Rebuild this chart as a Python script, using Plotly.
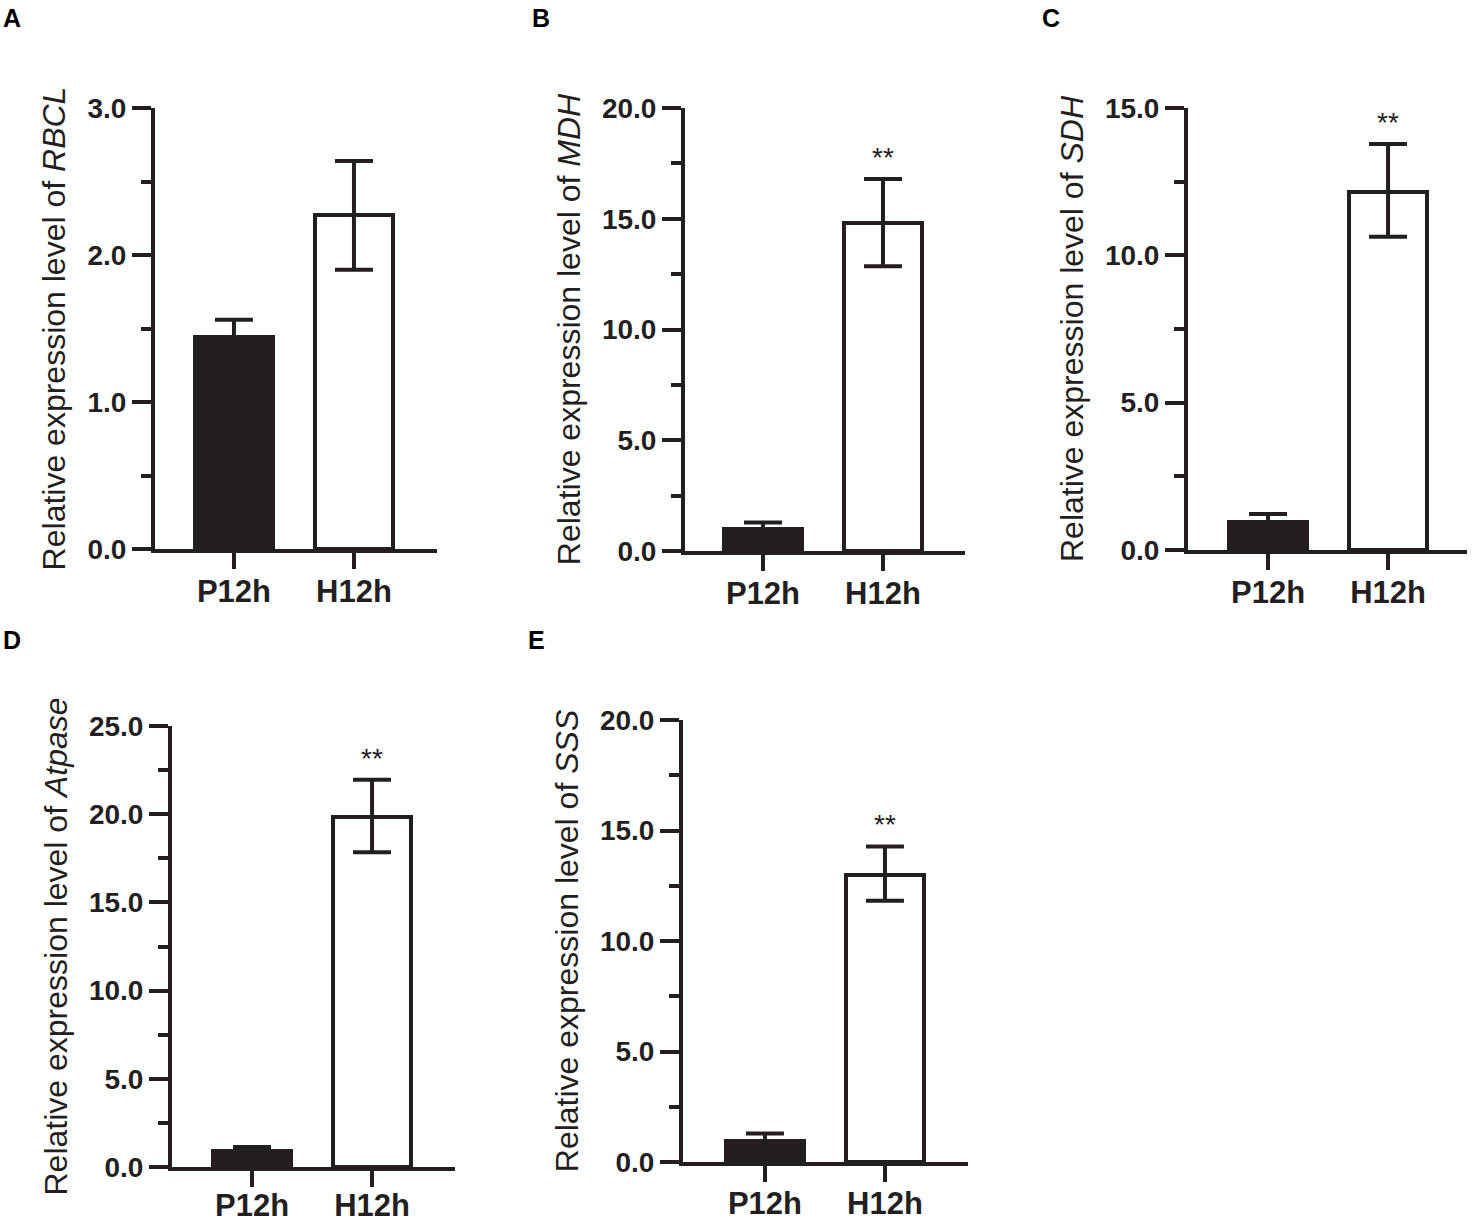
import plotly.graph_objects as go

W, H = 1476, 1224
INK = "#231f20"

categories = ["P12h", "H12h"]

# Panel data: mean, upper bound, lower bound
genes = ["RBCL", "MDH", "SDH", "Atpase", "SSS"]
panel_letters = ["A", "B", "C", "D", "E"]

mean_A = [1.44, 2.27]
upper_A = [1.56, 2.64]
lower_A = [1.32, 1.90]

mean_B = [0.98, 14.80]
upper_B = [1.29, 16.80]
lower_B = [0.67, 12.85]

mean_C = [0.95, 12.15]
upper_C = [1.22, 13.78]
lower_C = [0.68, 10.63]

mean_D = [0.88, 19.85]
upper_D = [1.14, 21.95]
lower_D = [0.62, 17.85]

mean_E = [0.96, 12.98]
upper_E = [1.29, 14.28]
lower_E = [0.63, 11.82]

y_max = [3.0, 20.0, 15.0, 25.0, 20.0]
y_dtick = [1.0, 5.0, 5.0, 5.0, 5.0]
signif = ["", "**", "**", "**", "**"]

means = [mean_A, mean_B, mean_C, mean_D, mean_E]
uppers = [upper_A, upper_B, upper_C, upper_D, upper_E]
lowers = [lower_A, lower_B, lower_C, lower_D, lower_E]

# layout in page pixels: (x_left, x_right, y_top, y_bottom, x_min_range)
boxes = [
    (155, 437, 108, 549, -0.658),
    (685, 965, 108, 551, -0.65),
    (1188, 1467, 108, 550, -0.667),
    (172, 455, 726, 1167, -0.667),
    (683, 968, 720, 1162, -0.683),
]
label_standoff = [-4, -4, -4, -8, -5]
letter_pos = [(12, 18), (541, 18), (1051, 18), (12, 640), (536, 640)]


def px_x(v):
    return v / W


def px_y(v):
    return 1 - v / H


fig = go.Figure()
annotations = []

for i in range(5):
    xa = "x" if i == 0 else f"x{i+1}"
    ya = "y" if i == 0 else f"y{i+1}"
    m, up, lo = means[i], uppers[i], lowers[i]
    fig.add_trace(go.Bar(
        x=categories, y=m, xaxis=xa, yaxis=ya, width=0.65,
        marker=dict(color=[INK, "white"], line=dict(color=INK, width=4)),
        error_y=dict(type="data", symmetric=False,
                     array=[u - v for u, v in zip(up, m)],
                     arrayminus=[v - l for v, l in zip(m, lo)],
                     color=INK, thickness=4, width=19),
        showlegend=False, hoverinfo="skip",
    ))
    x0, x1, yt, yb, xmin = boxes[i]
    xmax = xmin + (x1 - x0) / 120.0
    ax_x = dict(
        domain=[px_x(x0), min(px_x(x1), 1.0)], range=[xmin, xmax], anchor=ya,
        showline=True, linewidth=4, linecolor=INK, automargin=False,
        ticks="outside", ticklen=16, tickwidth=4, tickcolor=INK,
        ticklabelstandoff=label_standoff[i],
        tickfont=dict(family="Liberation Sans", size=31, color=INK, weight="bold"),
        showgrid=False, zeroline=False, fixedrange=True,
    )
    ax_y = dict(
        domain=[px_y(yb), px_y(yt)], range=[0, y_max[i]], anchor=xa,
        showline=True, linewidth=4, linecolor=INK, automargin=False,
        ticks="outside", ticklen=19, tickwidth=4, tickcolor=INK,
        dtick=y_dtick[i], tick0=0, tickformat=".1f",
        minor=dict(dtick=y_dtick[i] / 2, ticks="outside", ticklen=10, tickwidth=4, tickcolor=INK),
        tickfont=dict(family="Liberation Sans", size=28, color=INK, weight="bold"),
        showgrid=False, zeroline=False, fixedrange=True,
        title=dict(text=f"Relative expression level of <i>{genes[i]}</i>",
                   font=dict(family="Liberation Sans", size=32, color=INK), standoff=13),
    )
    fig.update_layout(**{("xaxis" if i == 0 else f"xaxis{i+1}"): ax_x,
                         ("yaxis" if i == 0 else f"yaxis{i+1}"): ax_y})
    if signif[i]:
        annotations.append(dict(
            x=categories[1], y=up[1], xref=xa, yref=ya, text=signif[i],
            showarrow=False, yanchor="bottom", yshift=4,
            font=dict(family="Liberation Sans", size=28, color=INK)))
    lx, ly = letter_pos[i]
    annotations.append(dict(
        x=px_x(lx), y=px_y(ly), xref="paper", yref="paper", text=f"<b>{panel_letters[i]}</b>",
        showarrow=False, xanchor="center", yanchor="middle",
        font=dict(family="Liberation Sans", size=25, color="black")))

fig.update_layout(
    width=W, height=H, margin=dict(l=0, r=0, t=0, b=0),
    paper_bgcolor="white", plot_bgcolor="white",
    annotations=annotations, bargap=0,
)

fig.write_html("out.html", config={"displayModeBar": False},
               post_script="document.body.style.margin='0';")
